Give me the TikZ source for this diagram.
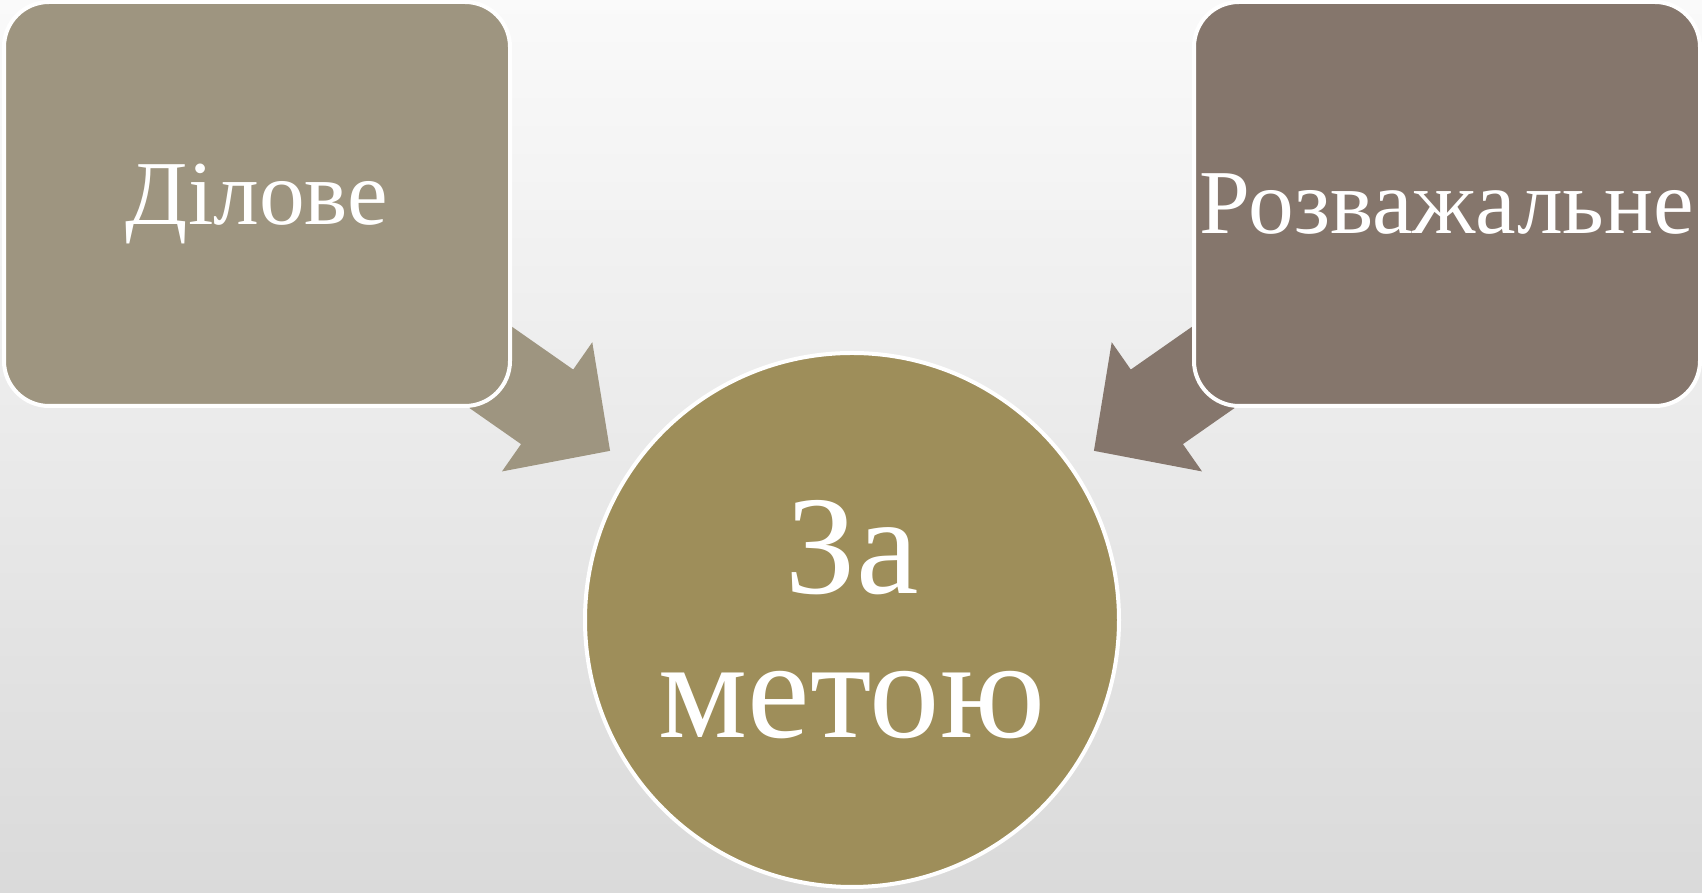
\documentclass[tikz,border=0pt]{standalone}
\usepackage{fontspec}
\setmainfont{LiberationSerif}[Extension=.ttf, UprightFont=*-Regular, BoldFont=*-Bold]
\usepackage{tikz}
\usetikzlibrary{arrows.meta,positioning,shapes.geometric,backgrounds}
\definecolor{goalPaleTaupe}{HTML}{9E9580}
\definecolor{goalTaupe}{HTML}{85766C}
\definecolor{goalOlive}{HTML}{9E8E5A}
\definecolor{goalBgTop}{HTML}{FAFAFA}
\definecolor{goalBgBottom}{HTML}{DADADA}
\tikzset{
  goalbox/.style={draw=white, line width=0.4mm, rounded corners=0.45cm, align=center,
    minimum width=5.06cm, minimum height=4.04cm, inner sep=0pt, text=white,
    font=\fontsize{26}{30}\selectfont},
  goalpale/.style={goalbox, fill=goalPaleTaupe},
  goaldark/.style={goalbox, fill=goalTaupe},
  goalcircle/.style={circle, draw=white, line width=0.4mm, fill=goalOlive, align=center,
    minimum size=5.34cm, inner sep=0pt, text=white, font=\fontsize{40}{41}\selectfont},
  goalarrow/.style={line width=0.91cm, -{Triangle[length=0.77cm, width=1.53cm]},
    shorten <=2.4cm, shorten >=2.95cm}
}
\begin{document}
\begin{tikzpicture}
    \node[goalpale] (business) at (2.57,-2.04) {Ділове};
    \node[goaldark] (leisure) at (14.47,-2.04) {Розважальне};
    \node[goalcircle] (purpose) at (8.52,-6.20) {За\\метою};

    \begin{scope}[on background layer]
      \shade[top color=goalBgTop, bottom color=goalBgBottom] (0,0) rectangle (17.02,-8.93);
      \draw[goalarrow, draw=goalPaleTaupe] (business.center) -- (purpose.center);
      \draw[goalarrow, draw=goalTaupe] (leisure.center) -- (purpose.center);
    \end{scope}
    \useasboundingbox (0,0) rectangle (17.02,-8.93);
  \end{tikzpicture}
\end{document}
